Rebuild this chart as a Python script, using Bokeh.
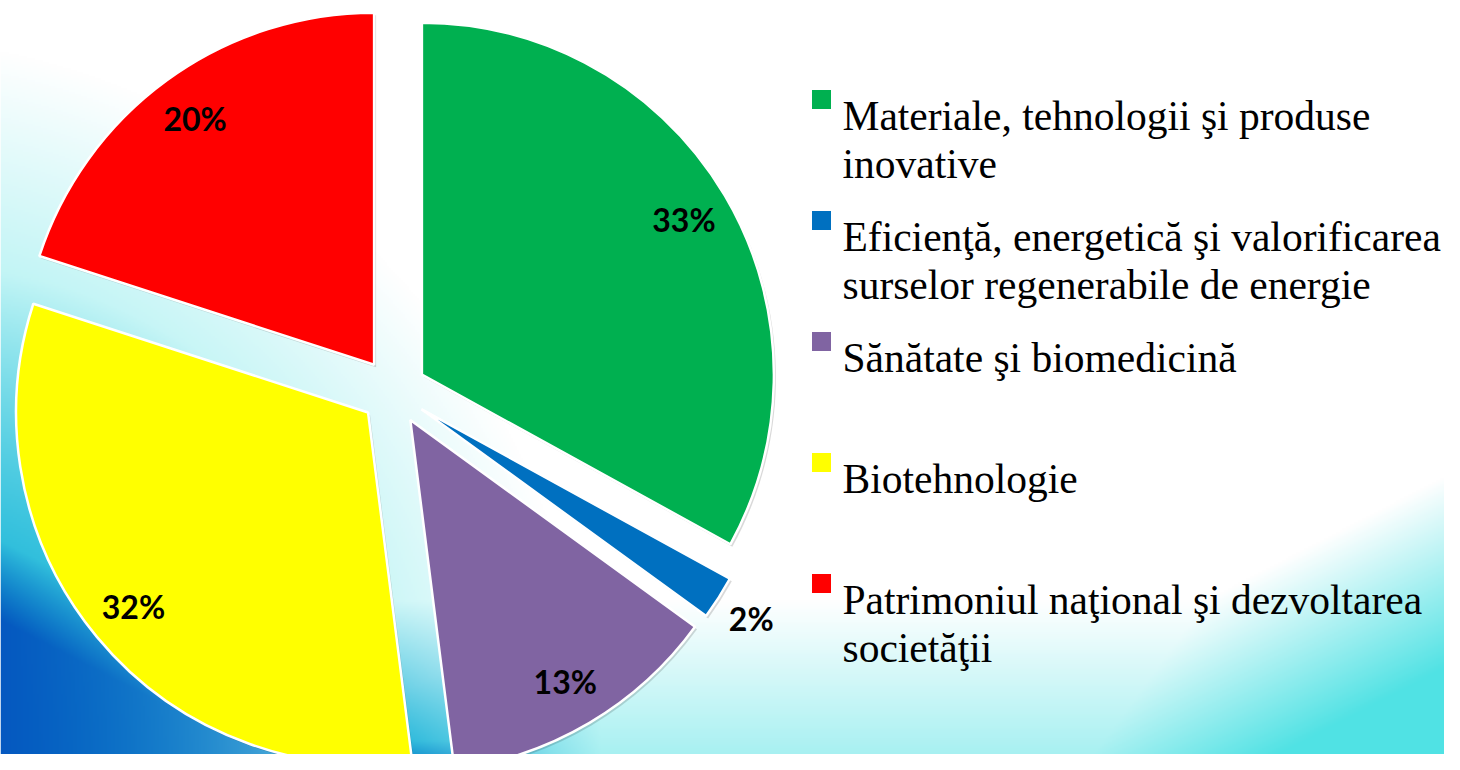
import numpy as np
from bokeh.plotting import figure
from bokeh.models import Range1d
from bokeh.core.properties import value
from bokeh.embed import file_html
from bokeh.resources import INLINE

# ---------------- data ----------------
categories = [
    "Materiale, tehnologii şi produse inovative",
    "Eficienţă, energetică şi valorificarea surselor regenerabile de energie",
    "Sănătate şi biomedicină",
    "Biotehnologie",
    "Patrimoniul naţional şi dezvoltarea societăţii",
]
legend_lines = [
    ["Materiale, tehnologii şi produse", "inovative"],
    ["Eficienţă, energetică şi valorificarea", "surselor regenerabile de energie"],
    ["Sănătate şi biomedicină"],
    ["Biotehnologie"],
    ["Patrimoniul naţional şi dezvoltarea", "societăţii"],
]
values = [33, 2, 13, 32, 20]
colors = ["#00B050", "#0070C0", "#8064A2", "#FFFF00", "#FF0000"]

# ---------------- layout (reference pixel space, y down) ----------------
W_REF, H_REF = 1460, 770
PW, PH = 1444, 754
def fy(y):  # reference y (down) -> data y (up)
    return H_REF - y

CX, CY = 393, 391
R = 352
EXPLODE = 33

p = figure(width=PW, height=PH, output_backend="svg", toolbar_location=None,
           x_range=Range1d(0, PW), y_range=Range1d(H_REF - PH, H_REF), min_border=0)
p.axis.visible = False
p.grid.visible = False
p.outline_line_color = None
p.background_fill_color = "white"
p.border_fill_color = "white"

# ---------------- background ----------------
S = 2
BW, BH = W_REF // S, H_REF // S
xs = (np.arange(BW) + 0.5) * S
rows = np.arange(BH)
ys = H_REF - (rows + 0.5) * S
X, Y = np.meshgrid(xs, ys)
c01 = lambda a: np.clip(a, 0, 1)

w_c = c01(1.2 - np.hypot(X + 150, Y - 780) / 620)
w_b = c01(1 - (770 - Y) / 170) * 0.55
t = (X - 900) * 0.46 + (Y - 770) * 0.887
w_r = c01((t + 10) / 170)
w_cyan = np.maximum(np.maximum(w_c, w_b), w_r)
w_t = c01(1.3 - np.hypot(X + 80, Y - 760) / 380)
w_t2 = c01(1 - (770 - Y) / 170) * c01(1 - np.abs(X - 400) / 200)
w_teal = np.maximum(w_t, w_t2)
s = Y - (600 + 0.515 * X)
w_blue = c01((s + 60) / 80) * c01(1 - X / 460)
w_blue2 = c01(1 - (770 - Y) / 30) * c01(1 - np.abs(X - 400) / 150) * 0.7
w_blue = np.maximum(w_blue, w_blue2)

col = np.ones(X.shape + (3,)) * 255.0
for w, c in ((w_cyan, (80, 226, 228)), (w_teal, (15, 172, 214)), (w_blue, (5, 88, 192))):
    col = col * (1 - w[..., None]) + np.array(c, dtype=float) * w[..., None]
img = np.empty((BH, BW), dtype=np.uint32)
view = img.view(dtype=np.uint8).reshape((BH, BW, 4))
view[..., 0] = col[..., 0].astype(np.uint8)
view[..., 1] = col[..., 1].astype(np.uint8)
view[..., 2] = col[..., 2].astype(np.uint8)
view[..., 3] = 255
p.image_rgba(image=[img], x=0, y=0, dw=W_REF, dh=H_REF)

# ---------------- pie ----------------
total = float(sum(values))
cum = np.cumsum([0] + values) / total
starts, ends, wx, wy, lx, ly, labels = [], [], [], [], [], [], []
for i, v in enumerate(values):
    a0 = np.pi / 2 - 2 * np.pi * cum[i]
    a1 = np.pi / 2 - 2 * np.pi * cum[i + 1]
    mid = (a0 + a1) / 2
    cx = CX + EXPLODE * np.cos(mid)
    cy = fy(CY) + EXPLODE * np.sin(mid)
    starts.append(a1)
    ends.append(a0)
    wx.append(cx)
    wy.append(cy)
    rl = R * (0.865 if v >= 5 else 1.11)
    lx.append(cx + rl * np.cos(mid))
    ly.append(cy + rl * np.sin(mid))
    labels.append(f"{v}%")

# soft shadow
p.wedge(x=[x + 2 for x in wx], y=[y - 2.5 for y in wy], radius=R, start_angle=starts,
        end_angle=ends, direction="anticlock", fill_color="black", fill_alpha=0.15,
        line_color=None)
p.wedge(x=wx, y=wy, radius=R, start_angle=starts, end_angle=ends, direction="anticlock",
        fill_color=colors, line_color="white", line_width=2.5)
p.text(x=lx, y=ly, text=labels, text_font=value("Lato"), text_font_style="bold",
       text_font_size="32px", text_align="center", text_baseline="middle",
       text_color="black")

# ---------------- legend ----------------
LEG_X_BOX, LEG_X_TXT = 821, 842
FIRST_BASE, ENTRY_STEP, LINE_STEP = 115, 121, 48
tx, ty, tt = [], [], []
bx, by = [], []
for i, lines in enumerate(legend_lines):
    base = FIRST_BASE + i * ENTRY_STEP
    bx.append(LEG_X_BOX)
    by.append(fy(base - 16))
    for j, line in enumerate(lines):
        tx.append(LEG_X_TXT)
        ty.append(fy(base + j * LINE_STEP))
        tt.append(line)
p.rect(x=bx, y=by, width=19, height=19, fill_color=colors, line_color=None)
p.text(x=tx, y=ty, text=tt, text_font=value("Liberation Serif"), text_font_size="41.5px",
       text_align="left", text_baseline="alphabetic", text_color="black")

open("out.html", "w").write(file_html(p, INLINE))
